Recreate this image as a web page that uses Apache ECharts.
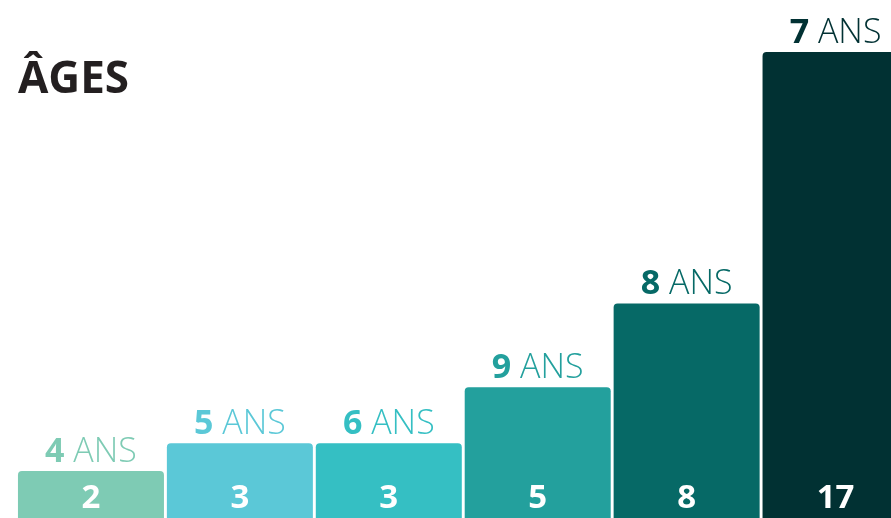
<!DOCTYPE html>
<html>
<head>
<meta charset="utf-8">
<script src="https://cdn.jsdelivr.net/npm/echarts@6/dist/echarts.min.js"></script>
<style>
  html, body { margin: 0; padding: 0; background: #fff; overflow: hidden; }
  /* the chart runs a little past the window on the right and bottom, like the original crop */
  #chart { width: 910px; height: 527px; }
</style>
</head>
<body>
<div id="chart"></div>
<script>
var ages = ['4', '5', '6', '9', '8', '7'];
var counts = [2, 3, 3, 5, 8, 17];
var barColors = ['#7ecbb4', '#5bc8d7', '#35bfc3', '#23a09d', '#066966', '#013133'];

var myChart = echarts.init(document.getElementById('chart'));

var fontName = '"Open Sans", "Noto Sans", sans-serif';

var option = {
    animation: false,
    title: {
        text: 'ÂGES',
        left: 13,
        top: 53,
        textStyle: {
            fontFamily: fontName,
            fontSize: 44,
            fontWeight: 'bold',
            color: '#231f20'
        }
    },
    grid: {
        left: 16.5,
        right: 0,
        top: 52,
        bottom: 0
    },
    xAxis: {
        type: 'category',
        data: ages,
        show: false
    },
    yAxis: {
        type: 'value',
        min: 0,
        max: 17,
        show: false
    },
    series: [
        {
            type: 'bar',
            barWidth: 146,
            data: counts.map(function (v, i) {
                return {
                    value: v,
                    itemStyle: { color: barColors[i], borderRadius: [4, 4, 0, 0] },
                    label: {
                        show: true,
                        position: 'top',
                        distance: 2,
                        formatter: '{b|' + ages[i] + '}{l| ANS}',
                        rich: {
                            b: { fontFamily: fontName, fontSize: 34, fontWeight: 'bold', color: barColors[i] },
                            l: { fontFamily: fontName, fontSize: 34, fontWeight: 300, color: barColors[i] }
                        }
                    }
                };
            })
        },
        {
            // white counts inside the bars
            type: 'bar',
            barWidth: 146,
            barGap: '-100%',
            silent: true,
            itemStyle: { color: 'transparent' },
            data: counts,
            label: {
                show: true,
                position: 'insideBottom',
                distance: 12,
                color: '#fff',
                fontFamily: fontName,
                fontSize: 33,
                fontWeight: 'bold'
            }
        }
    ]
};

myChart.setOption(option);
</script>
</body>
</html>
